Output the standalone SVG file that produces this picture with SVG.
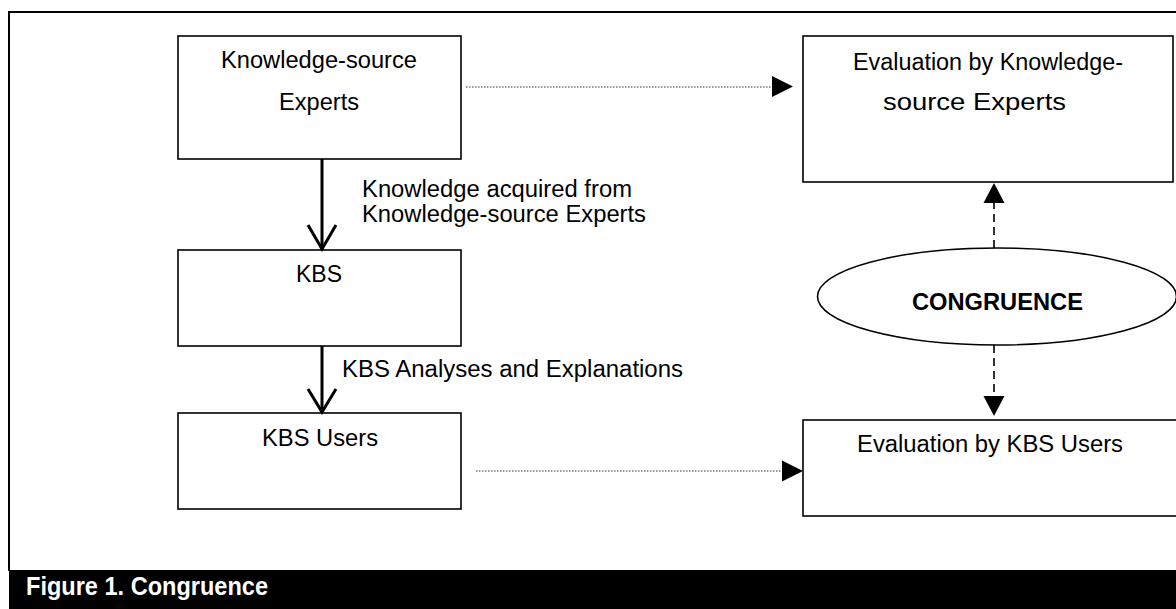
<svg xmlns="http://www.w3.org/2000/svg" width="1176" height="609" viewBox="0 0 1176 609">
<style>
.box{fill:#fff;stroke:#000;stroke-width:1.6}
.t{font-family:"Liberation Sans",Arial,sans-serif;font-size:23px;fill:#000}
.b{font-weight:bold}
.solid{stroke:#000;stroke-width:3;fill:none}
.dot{stroke:#333;stroke-width:1;stroke-dasharray:1.5,1.5;fill:none}
.dash{stroke:#000;stroke-width:1.6;stroke-dasharray:8,5;fill:none}
.head{fill:#000}
</style>
<rect x="0" y="0" width="1176" height="609" fill="#fff"/>
<g id="frame">
<path d="M9,571 V12 H1176" fill="none" stroke="#000" stroke-width="2"/>
<rect x="9" y="570" width="1167" height="39" fill="#000"/>
<text class="t b" x="26" y="595" font-size="26" style="fill:#fff;font-size:26px" textLength="242" lengthAdjust="spacingAndGlyphs">Figure 1. Congruence</text>
</g>
<g id="n-experts">
<rect class="box" x="178" y="36" width="283" height="123"/>
<text class="t" x="221" y="68" textLength="196" lengthAdjust="spacingAndGlyphs">Knowledge-source</text>
<text class="t" x="279" y="110" textLength="80" lengthAdjust="spacingAndGlyphs">Experts</text>
</g>
<g id="n-kbs">
<rect class="box" x="178" y="250" width="283" height="96"/>
<text class="t" x="296" y="282" textLength="46" lengthAdjust="spacingAndGlyphs">KBS</text>
</g>
<g id="n-users">
<rect class="box" x="178" y="413" width="283" height="96"/>
<text class="t" x="262" y="446" textLength="116" lengthAdjust="spacingAndGlyphs">KBS Users</text>
</g>
<g id="n-eval-experts">
<rect class="box" x="803" y="36" width="370" height="146"/>
<text class="t" x="853" y="70" textLength="270" lengthAdjust="spacingAndGlyphs">Evaluation by Knowledge-</text>
<text class="t" x="883" y="110" textLength="183" lengthAdjust="spacingAndGlyphs">source Experts</text>
</g>
<g id="n-eval-users">
<rect class="box" x="803" y="420" width="380" height="96"/>
<text class="t" x="857" y="452" textLength="266" lengthAdjust="spacingAndGlyphs">Evaluation by KBS Users</text>
</g>
<g id="n-congruence">
<ellipse cx="997" cy="296.5" rx="179.5" ry="48.5" fill="#fff" stroke="#000" stroke-width="1.6"/>
<text class="t b" x="912" y="310" textLength="171" lengthAdjust="spacingAndGlyphs">CONGRUENCE</text>
</g>
<g id="connectors">
<line class="solid" x1="322" y1="159" x2="322" y2="249"/>
<polyline class="solid" points="308,225 322,249 336,225"/>
<line class="solid" x1="322" y1="346" x2="322" y2="412"/>
<polyline class="solid" points="308,389 322,412 336,389"/>
<text class="t" x="362" y="197" textLength="270" lengthAdjust="spacingAndGlyphs">Knowledge acquired from</text>
<text class="t" x="362" y="222" textLength="284" lengthAdjust="spacingAndGlyphs">Knowledge-source Experts</text>
<text class="t" x="342" y="377" textLength="341" lengthAdjust="spacingAndGlyphs">KBS Analyses and Explanations</text>
<line class="dot" x1="466" y1="87" x2="773" y2="87"/>
<polygon class="head" points="772,76 793,86.5 772,97"/>
<line class="dot" x1="476" y1="471" x2="783" y2="471"/>
<polygon class="head" points="782,460.5 803,471 782,481.5"/>
<line class="dash" x1="994" y1="248" x2="994" y2="202"/>
<polygon class="head" points="983.5,203 994,183 1004.5,203"/>
<line class="dash" x1="994" y1="345" x2="994" y2="397"/>
<polygon class="head" points="983.5,396 994,416 1004.5,396"/>
</g>
</svg>
